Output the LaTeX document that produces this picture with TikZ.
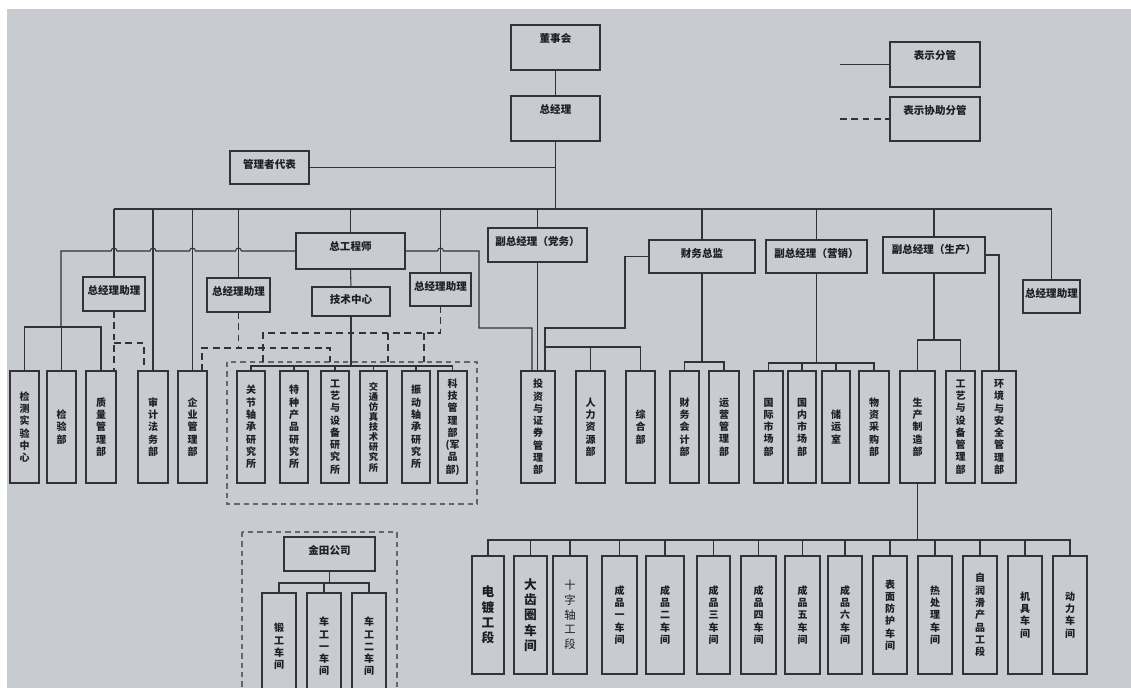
\documentclass[tikz,border=0pt]{standalone}
\usepackage{fontspec}
\setmainfont{Noto Sans CJK SC}
\usetikzlibrary{calc}
\definecolor{bg}{RGB}{200,204,209}
\definecolor{ln}{RGB}{50,50,56}
\definecolor{txtc}{RGB}{30,30,36}
\tikzset{
 box/.style={draw=ln, line width=1.1pt, inner sep=0pt, outer sep=0pt, rectangle},
 htxt/.style={font=\fontsize{7.9}{9}\selectfont\bfseries, text=txtc, inner sep=0pt},
 vtxt/.style={font=\fontsize{7.5}{9.2}\selectfont\bfseries, align=center, text=txtc, inner sep=0pt},
 vtxts/.style={vtxt, font=\fontsize{7}{7.6}\selectfont\bfseries},
 vtxtb/.style={vtxt, font=\fontsize{9.5}{11.5}\selectfont\bfseries},
 vtxtr/.style={vtxt, font=\fontsize{8.5}{11}\selectfont},
 con/.style={draw=ln, line width=0.8pt},
 dsh/.style={draw=ln, line width=1.1pt, dash pattern=on 5pt off 3.5pt},
 grp/.style={draw=ln!75, line width=0.8pt, dash pattern=on 4pt off 3pt},
}
\newcommand\hbx[6]{%
 \node[box,anchor=north west,minimum width={(#4-#2)*0.75pt},minimum height={(#5-#3)*0.75pt}] (#1) at (#2,#3) {};
 \node[htxt] (#1-t) at ($(#1.north)+(0,13)$) {#6};}
\newcommand\vbx[7][vtxt]{%
 \node[box,anchor=north west,minimum width={(#5-#3)*0.75pt},minimum height={(#6-#4)*0.75pt}] (#2) at (#3,#4) {};
 \node[#1] (#2-t) at (#2.center) {#7};}
\begin{document}
\begin{tikzpicture}[x=0.75pt,y=-0.75pt]
\useasboundingbox (0,0) rectangle (1131,688);
\fill[white] (0,0) rectangle (1131,688);
\fill[bg] (7,9) rectangle (1131,688);
\begin{scope}
\clip (0,0) rectangle (1131,688);
% top
\hbx{dsh}{511}{25}{600}{70}{董事会}
\hbx{zjl}{511}{96}{600}{141}{总经理}
\hbx{glz}{230}{151}{309}{184}{管理者代表}
\hbx{lga}{890}{42}{980}{87}{表示分管}
\hbx{lgb}{890}{97}{980}{141}{表示协助分管}
% second level
\hbx{zgc}{296}{233}{405}{269}{总工程师}
\hbx{jszx}{312}{287}{390}{316}{技术中心}
\hbx{zla}{83}{277}{145}{311}{总经理助理}
\hbx{zlb}{207}{278}{270}{312}{总经理助理}
\hbx{zlc}{410}{273}{471}{306}{总经理助理}
\hbx{dw}{488}{228}{587}{262}{副总经理（党务）}
\hbx{cwzj}{649}{240}{755}{273}{财务总监}
\hbx{yx}{766}{240}{867}{273}{副总经理（营销）}
\hbx{sc}{883}{237}{985}{273}{副总经理（生产）}
\hbx{zld}{1023}{280}{1080}{313}{总经理助理}
\hbx{jt}{284}{537}{375}{571}{金田公司}
% departments
\vbx{jc}{10}{371}{39}{483}{检\\测\\实\\验\\中\\心}
\vbx{jy}{47}{371}{76}{483}{检\\验\\部}
\vbx{zlgl}{86}{371}{116}{483}{质\\量\\管\\理\\部}
\vbx{sj}{138}{371}{168}{483}{审\\计\\法\\务\\部}
\vbx{qy}{178}{371}{207}{483}{企\\业\\管\\理\\部}
\vbx{ra}{237}{371}{265}{483}{关\\节\\轴\\承\\研\\究\\所}
\vbx{rb}{280}{371}{308}{483}{特\\种\\产\\品\\研\\究\\所}
\vbx{rc}{321}{371}{349}{483}{工\\艺\\与\\设\\备\\研\\究\\所}
\vbx[vtxts]{rd}{360}{371}{387}{483}{交\\通\\仿\\真\\技\\术\\研\\究\\所}
\vbx{re}{402}{371}{430}{483}{振\\动\\轴\\承\\研\\究\\所}
\vbx{rf}{438}{371}{467}{483}{科\\技\\管\\理\\部\\(军\\品\\部)}
\vbx{tz}{521}{371}{555}{483}{投\\资\\与\\证\\券\\管\\理\\部}
\vbx{rl}{576}{371}{605}{483}{人\\力\\资\\源\\部}
\vbx{zh}{626}{371}{655}{483}{综\\合\\部}
\vbx{cw}{670}{371}{699}{483}{财\\务\\会\\计\\部}
\vbx{yy}{709}{371}{739}{483}{运\\营\\管\\理\\部}
\vbx{gj}{754}{371}{783}{483}{国\\际\\市\\场\\部}
\vbx{gn}{788}{371}{816}{483}{国\\内\\市\\场\\部}
\vbx{cy}{822}{371}{850}{483}{储\\运\\室}
\vbx{wz}{859}{371}{889}{483}{物\\资\\采\\购\\部}
\vbx{sz}{900}{371}{935}{483}{生\\产\\制\\造\\部}
\vbx{gy}{946}{371}{975}{483}{工\\艺\\与\\设\\备\\管\\理\\部}
\vbx{hj}{982}{371}{1016}{483}{环\\境\\与\\安\\全\\管\\理\\部}
% workshops
\vbx[vtxtb]{wa}{472}{556}{504}{674}{电\\镀\\工\\段}
\vbx[vtxtb]{wb}{514}{556}{547}{674}{大\\齿\\圈\\车\\间}
\vbx[vtxtr]{wc}{553}{556}{587}{674}{十\\字\\轴\\工\\段}
\vbx{wd}{602}{556}{637}{674}{成\\品\\一\\车\\间}
\vbx{we}{646}{556}{684}{674}{成\\品\\二\\车\\间}
\vbx{wf}{697}{556}{730}{674}{成\\品\\三\\车\\间}
\vbx{wg}{741}{556}{776}{674}{成\\品\\四\\车\\间}
\vbx{wh}{785}{556}{820}{674}{成\\品\\五\\车\\间}
\vbx{wi}{828}{556}{862}{674}{成\\品\\六\\车\\间}
\vbx{wj}{873}{556}{907}{674}{表\\面\\防\\护\\车\\间}
\vbx{wk}{918}{556}{952}{674}{热\\处\\理\\车\\间}
\vbx{wl}{963}{556}{997}{674}{自\\润\\滑\\产\\品\\工\\段}
\vbx{wm}{1008}{556}{1042}{674}{机\\具\\车\\间}
\vbx{wn}{1053}{556}{1087}{674}{动\\力\\车\\间}
\vbx{ka}{262}{593}{296}{700}{锻\\工\\车\\间}
\vbx{kb}{307}{593}{341}{700}{车\\工\\一\\车\\间}
\vbx{kc}{352}{593}{386}{700}{车\\工\\二\\车\\间}
% group frames
\draw[grp] (227,362) rectangle (477,504);
\draw[grp] (242,532) rectangle (397,700);
% coordinates
\coordinate (busL) at (114,209);
\coordinate (busR) at (1052,209);
\coordinate (qa) at (61,327);
\coordinate (legA) at (840,64.5);
\coordinate (legB) at (840,119);
% main connectors
\draw[con] (dsh.south) -- (zjl.north);
\draw[con] (zjl.south) -- (zjl.south |- busL);
\draw[con] (glz.east) -- (glz.east -| zjl.south);
\draw[con] (busL) -- (busR);
\foreach \n in {zla,zlb,zgc,zlc,dw,cwzj,yx,sc,zld}
  \draw[con] (\n.north) -- (\n.north |- busL);
\foreach \n in {sj,qy}
  \draw[con] (\n.north) -- (\n.north |- busL);
\draw[con] (zgc.south) -- (jszx.north);
% chief engineer left line with hops
\draw[con] (zgc.west) -- (241.4,251) arc[start angle=0,end angle=180,radius=2.2pt]
  -- (195.4,251) arc[start angle=0,end angle=180,radius=2.2pt]
  -- (155.9,251) arc[start angle=0,end angle=180,radius=2.2pt]
  -- (116.9,251) arc[start angle=0,end angle=180,radius=2.2pt]
  -- (qa |- zgc.west) -- (qa);
\draw[con] (jc.north) |- (qa) -| (zlgl.north);
\draw[con] (jy.north) -- (jy.north |- qa);
% chief engineer right line
\draw[con] (zgc.east) -- (437.6,251) arc[start angle=180,end angle=0,radius=2.2pt]
  -- (479,251) -- (479,328) -- (532,328) -- ($(tz.north)+(-6,0)$);
\draw[con] (dw.south) -- (dw.south |- tz.north);
% finance director
\draw[con] (cwzj.west) -- (625,256.5) -- (625,328) -- (545,328) -- ($(tz.north)+(7,0)$);
\draw[con] (545,347) -| (zh.north);
\draw[con] (rl.north) -- ++(0,-24);
\fill[ln] (545,347) circle[radius=1.1pt];
\draw[con] (cwzj.south) -- (cwzj.south |- 0,362);
\draw[con] (cw.north) |- (cwzj.south |- 0,362) -| (yy.north);
% marketing
\draw[con] (yx.south) -- (yx.south |- 0,363);
\draw[con] (gj.north) |- (yx.south |- 0,363) -| (wz.north);
\draw[con] (gn.north) -- (gn.north |- 0,363);
\draw[con] (cy.north) -- (cy.north |- 0,363);
% production
\draw[con] (sc.south) -- (sc.south |- 0,340);
\draw[con] (sz.north) |- (sc.south |- 0,340) -| (gy.north);
\draw[con] (sc.east) -| (hj.north);
\draw[con] (sz.south) -- (sz.south |- 0,540);
\draw[con] (wa.north) |- (sz.south |- 0,540) -| (wn.north);
\foreach \n in {wb,wc,wd,we,wf,wg,wh,wi,wj,wk,wl,wm}
  \draw[con] (\n.north) -- (\n.north |- 0,540);
% research institutes
\draw[con] (jszx.south) -- (jszx.south |- 0,366);
\draw[con] (ra.north) |- (rf.north |- 0,366) -- (rf.north);
\foreach \n in {rb,rc,rd,re}
  \draw[con] (\n.north) -- (\n.north |- 0,366);
% Jintian
\draw[con] (jt.south) -- (jt.south |- 0,583);
\draw[con] (ka.north) |- (jt.south |- 0,583) -| (kc.north);
\draw[con] (kb.north) -- (kb.north |- 0,583);
% dashed assistance lines
\draw[dsh] (zla.south) -- (zla.south |- zlgl.north);
\draw[dsh] (114,343) -| ($(sj.north)+(-9,0)$);
\draw[dsh] (zlb.south) -- (zlb.south |- 0,348);
\draw[dsh] (202,371) |- (330,348) -- (330,366);
\draw[dsh] (zlc.south) |- (263,333) -- (263,366);
\draw[dsh] (388,333) -- (388,366);
\draw[dsh] (424,333) -- (424,366);
% legend
\draw[con] (legA) -- (lga.west);
\draw[dsh] (legB) -- (lgb.west);
\end{scope}
\end{tikzpicture}
\end{document}
